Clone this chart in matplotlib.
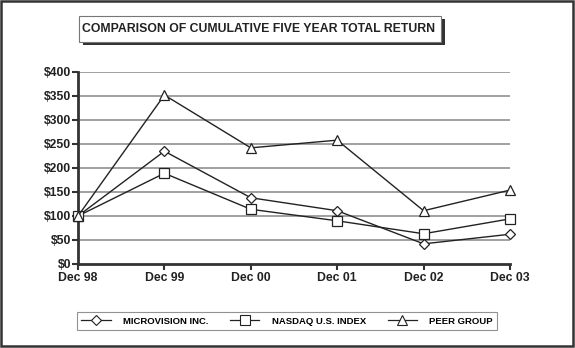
import matplotlib
matplotlib.use("Agg")
import matplotlib.pyplot as plt
from matplotlib.patches import Rectangle
from matplotlib.lines import Line2D

years = ["Dec 98", "Dec 99", "Dec 00", "Dec 01", "Dec 02", "Dec 03"]
microvision = [100, 235, 138, 111, 42, 62]
nasdaq = [100, 189, 114, 90, 63, 94]
peer = [100, 352, 242, 258, 111, 154]
series_names = ["MICROVISION INC.", "NASDAQ U.S. INDEX", "PEER GROUP"]
yticks = [0, 50, 100, 150, 200, 250, 300, 350, 400]
title = "COMPARISON OF CUMULATIVE FIVE YEAR TOTAL RETURN"

plt.rcParams['font.family'] = ['Liberation Sans', 'DejaVu Sans']
plt.rcParams['font.weight'] = 'bold'

W, H = 575, 348
fig = plt.figure(figsize=(W / 100, H / 100), dpi=100)
fig.patch.set_facecolor('white')

def fx(px):
    return px / W

def fy(py):
    return 1 - py / H

# outer frame
fig.add_artist(Rectangle((fx(1), fy(346)), fx(572), 345 / H, transform=fig.transFigure,
                         fill=False, edgecolor='#333333', linewidth=1.8, zorder=5))

ax = fig.add_axes([fx(78), fy(264), fx(510) - fx(78), fy(72) - fy(264)])
x = list(range(len(years)))
for vals, mk, ms in [(microvision, 'D', 5.5), (nasdaq, 's', 7), (peer, '^', 7.5)]:
    ax.plot(x, vals, color='#222222', linewidth=1.0, marker=mk, markersize=ms,
            markerfacecolor='white', markeredgecolor='#222222', markeredgewidth=0.9,
            zorder=3, clip_on=False)

ax.set_xlim(0, len(years) - 1)
ax.set_ylim(0, 400)
ax.set_yticks(yticks)
ax.set_yticklabels([f"${v}" for v in yticks], fontsize=8.8, fontweight='bold', color='#222222')
ax.set_xticks(x)
ax.set_xticklabels(years, fontsize=8.8, fontweight='bold', color='#222222')
for v in yticks[1:]:
    ax.axhline(v, color='#999999', linewidth=1.3, zorder=1)
for s in ['top', 'right']:
    ax.spines[s].set_visible(False)
for s in ['left', 'bottom']:
    ax.spines[s].set_color('#333333')
    ax.spines[s].set_linewidth(2.0)
ax.tick_params(axis='y', direction='out', length=4, width=1.5, color='#333333', pad=1)
ax.tick_params(axis='x', direction='out', length=4, width=1.5, color='#333333', pad=2)

# title box with shadow
fig.add_artist(Rectangle((fx(83), fy(45)), fx(362), 26 / H, transform=fig.transFigure,
                         facecolor='#333333', edgecolor='none', zorder=6))
fig.add_artist(Rectangle((fx(79), fy(42)), fx(362), 26 / H, transform=fig.transFigure,
                         facecolor='white', edgecolor='#777777', linewidth=0.8, zorder=7))
fig.text(fx(259), fy(29), title, ha='center', va='center', fontsize=8.85,
         fontweight='bold', color='#222222', zorder=8)

# legend
handles = [Line2D([0], [0], color='#222222', linewidth=0.9, marker=m, markersize=ms,
                  markerfacecolor='white', markeredgecolor='#222222', markeredgewidth=0.8)
           for m, ms in [('D', 5), ('s', 6.5), ('^', 7)]]
leg = fig.legend(handles, series_names, loc='center', bbox_to_anchor=(fx(287), fy(321)),
                 ncol=3, frameon=True, fancybox=False, handlelength=3.1,
                 columnspacing=2.3, handletextpad=1.3, borderpad=0.45,
                 prop={'weight': 'bold', 'size': 6.8})
leg.get_frame().set_edgecolor('#777777')
leg.get_frame().set_linewidth(0.8)

fig.savefig("out.png", dpi=100)
